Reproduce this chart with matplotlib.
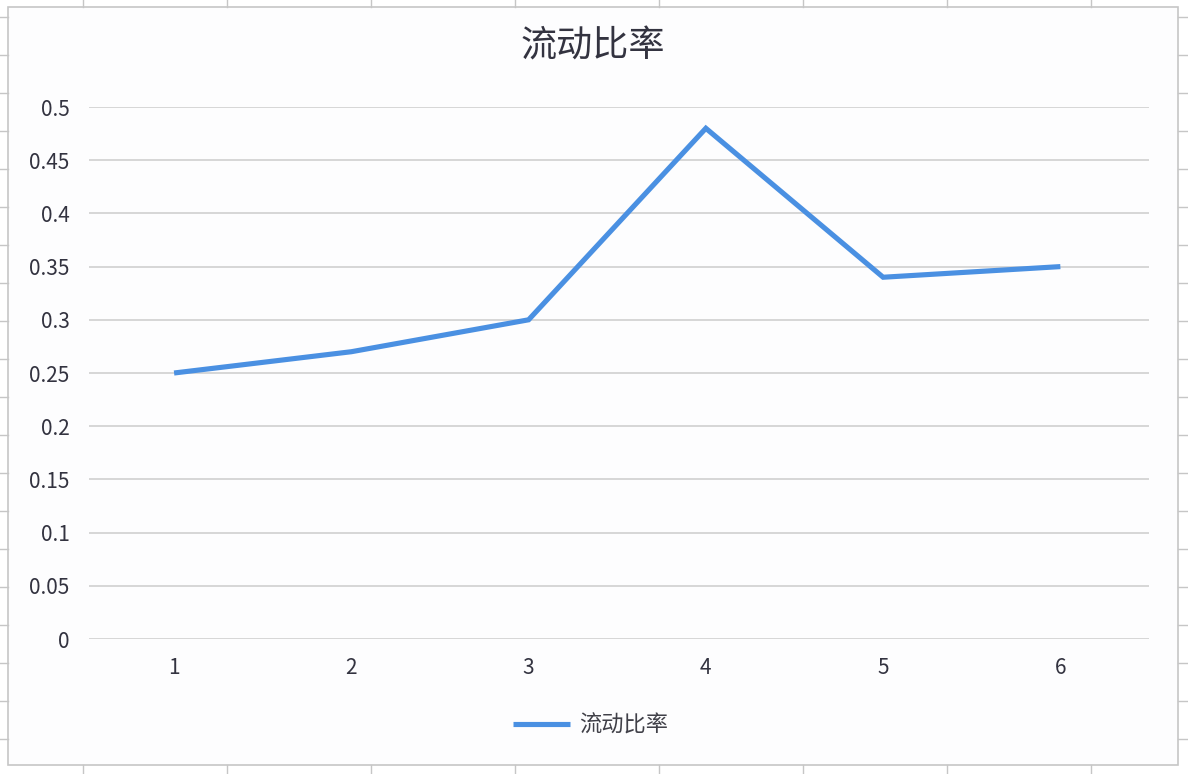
import matplotlib.pyplot as plt
from matplotlib.lines import Line2D
from matplotlib.patches import Rectangle

plt.rcParams['font.family'] = ['Noto Sans CJK SC', 'DejaVu Sans']

# data
periods = ['1', '2', '3', '4', '5', '6']
current_ratio = [0.25, 0.27, 0.30, 0.48, 0.34, 0.35]
yticks = [0, 0.05, 0.1, 0.15, 0.2, 0.25, 0.3, 0.35, 0.4, 0.45, 0.5]
ytick_labels = ['0', '0.05', '0.1', '0.15', '0.2', '0.25', '0.3', '0.35', '0.4', '0.45', '0.5']
title = '流动比率'

W, H = 1188, 774
fig = plt.figure(figsize=(W / 100, H / 100), dpi=100)
fig.patch.set_facecolor('white')


def fx(px):
    return px / W


def fy(py):
    return 1 - py / H


# chart frame sitting on the spreadsheet
fig.patches.append(Rectangle((fx(8), fy(765)), fx(1178) - fx(8), fy(7) - fy(765),
                             transform=fig.transFigure, facecolor='#fdfdfe',
                             edgecolor='#c6c6c6', linewidth=1.2, zorder=-5))
# cell border stubs around the frame
for x in range(83, 1180, 144):
    fig.add_artist(Line2D([fx(x), fx(x)], [fy(0), fy(7)], color='#c6c6c6', lw=1))
    fig.add_artist(Line2D([fx(x), fx(x)], [fy(765), fy(774)], color='#c6c6c6', lw=1))
for y in range(17, 774, 38):
    fig.add_artist(Line2D([fx(0), fx(8)], [fy(y), fy(y)], color='#c6c6c6', lw=1))
    fig.add_artist(Line2D([fx(1178), fx(1188)], [fy(y), fy(y)], color='#c6c6c6', lw=1))

ax = fig.add_axes([fx(89), fy(639), fx(1149) - fx(89), fy(107) - fy(639)])
ax.set_facecolor('none')
ax.set_zorder(1)

xs = list(range(1, len(periods) + 1))
ax.plot(xs, current_ratio, color='#4a90e2', linewidth=3.7, solid_capstyle='butt',
        solid_joinstyle='miter', label=title, zorder=3)

ax.set_xlim(0.52, len(periods) + 0.5)
ax.set_ylim(0, 0.5)
ax.set_yticks(yticks)
ax.set_yticklabels(ytick_labels)
ax.set_xticks(xs)
ax.set_xticklabels(periods)
ax.grid(axis='y', color='#d0d0d0', linewidth=1.2)
ax.set_axisbelow(True)
for s in ax.spines.values():
    s.set_visible(False)
ax.tick_params(length=0, labelsize=15, labelcolor='#333340')
ax.tick_params(axis='y', pad=14)
ax.tick_params(axis='x', pad=13)

fig.text(fx(593), fy(47), title, ha='center', va='center', fontsize=26,
         color='#333340', fontweight='light')

leg = ax.legend(loc='center', bbox_to_anchor=(0.473, -0.162), frameon=False,
                fontsize=16, handlelength=2.6, handletextpad=0.4)
for t in leg.get_texts():
    t.set_color('#404048')

fig.savefig('out.png', dpi=100, facecolor='white')
